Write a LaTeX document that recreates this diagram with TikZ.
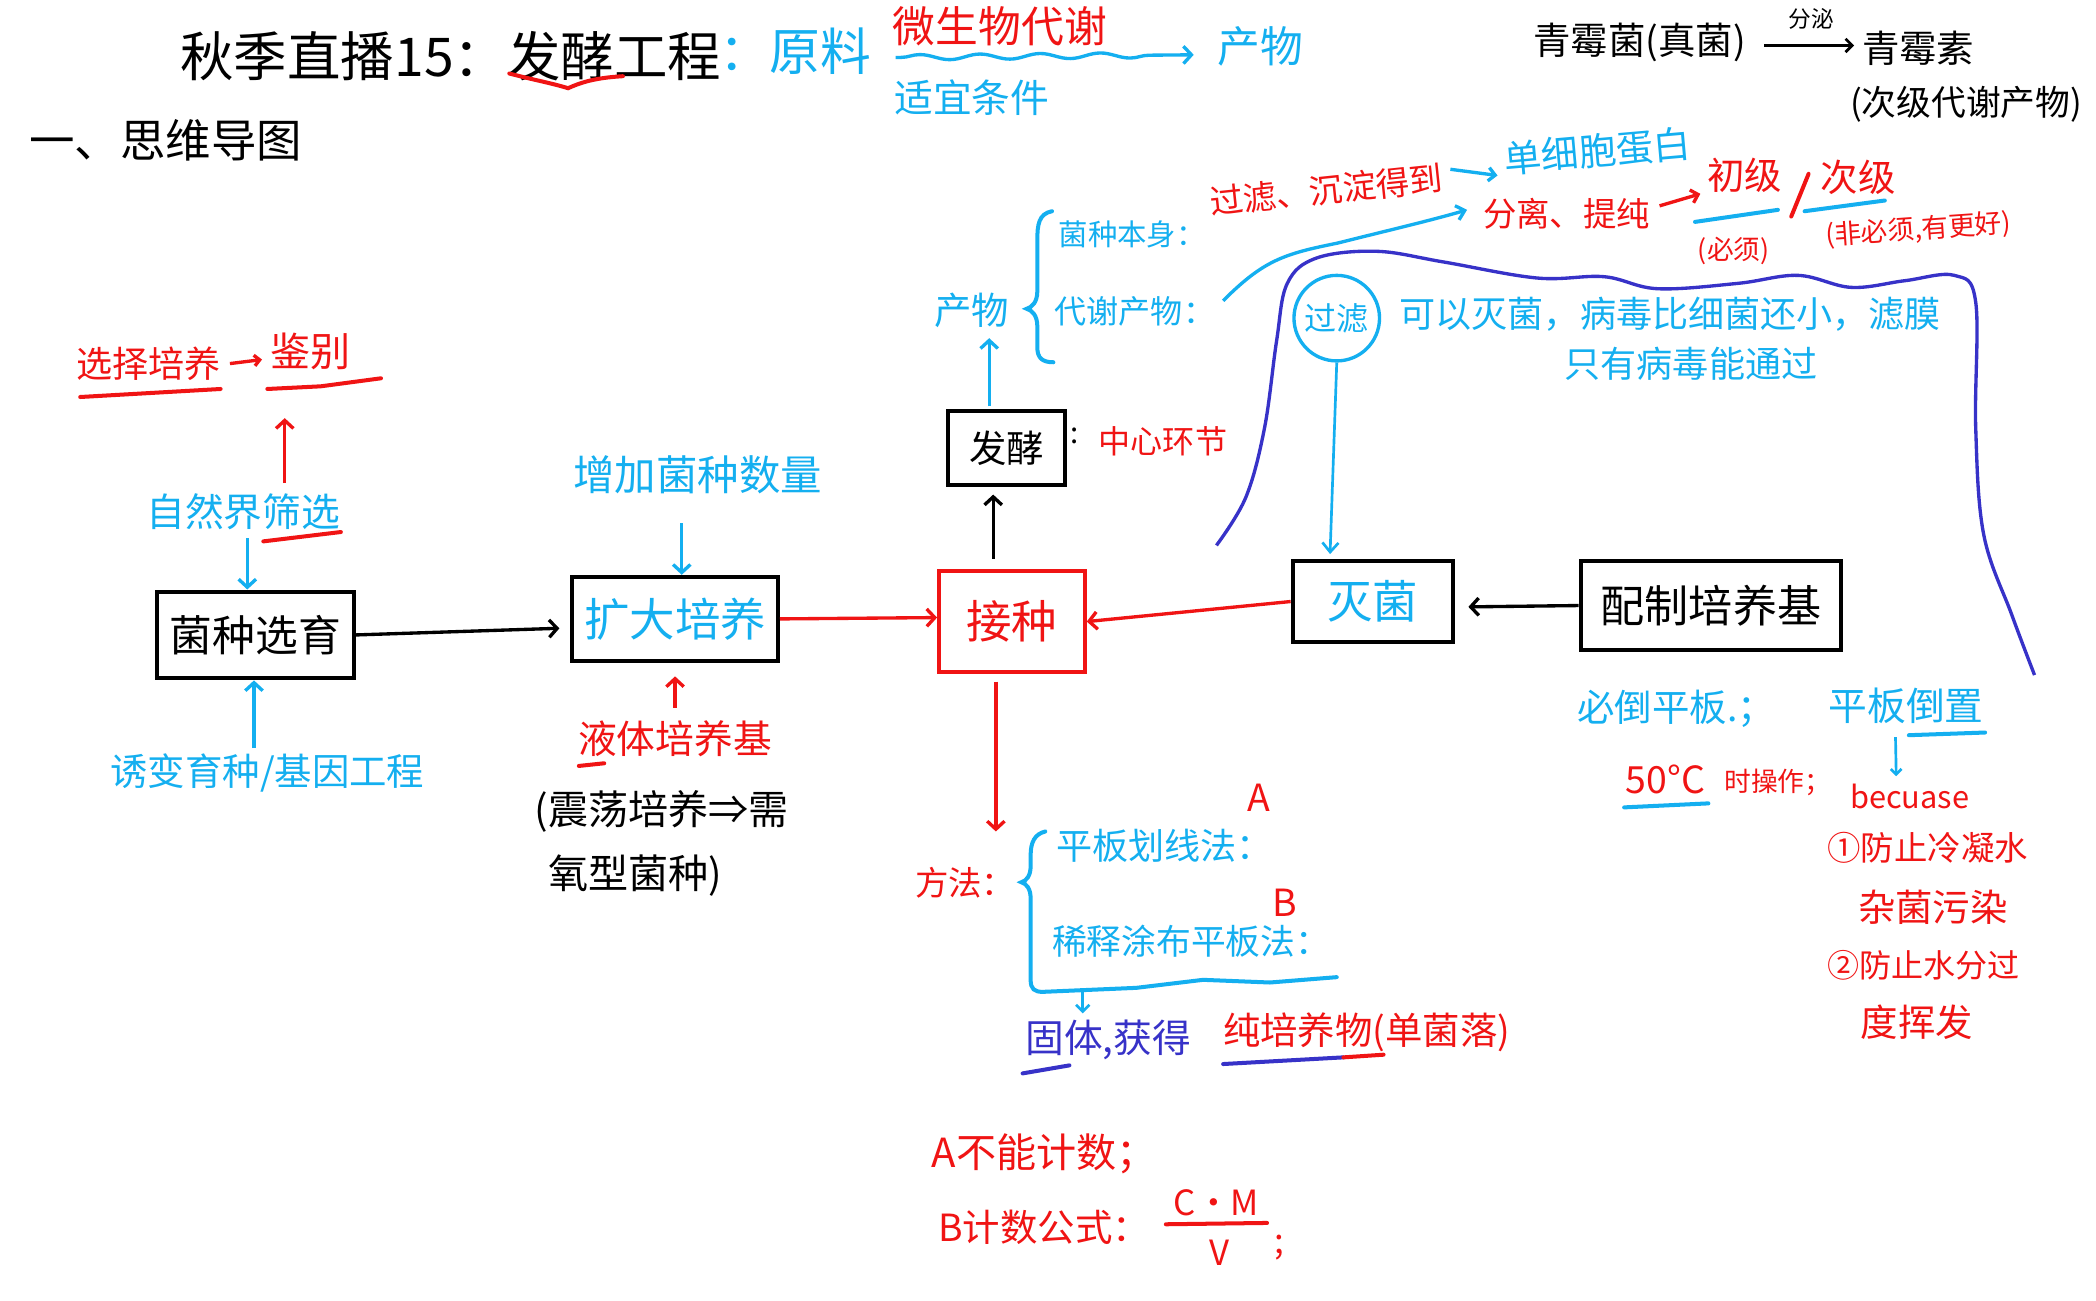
\documentclass[tikz,border=0pt]{standalone}
\usepackage{fontspec}
\setmainfont{Noto Sans CJK SC}
\usetikzlibrary{arrows.meta,calc,decorations.pathmorphing}
\definecolor{cb}{RGB}{20,175,240}
\definecolor{rd}{RGB}{240,20,20}
\definecolor{ib}{RGB}{55,50,200}
\newcommand{\fsz}[1]{\fontsize{#1pt}{#1pt}\selectfont}
\begin{document}
\begin{tikzpicture}[x=1pt,y=-1pt,
  txt/.style={inner sep=0pt, outer sep=2pt},
  boxk/.style={draw=black, line width=3pt, inner sep=0pt},
  arr/.style={-{Straight Barb[length=6pt,width=13pt]}, line width=2.5pt},
  ul/.style={line width=3pt, line cap=round},
]
\fill[white] (0,0) rectangle (1568,973);
\useasboundingbox (0,0) rectangle (1568,973);

% ---------- title line ----------
\node[txt,anchor=west,font=\fsz{40}] (title) at (133,42) {秋季直播15：发酵工程};
\node[txt,anchor=west,font=\fsz{38},text=cb] (yl) at (536,38) {：原料};
\node[txt,font=\fsz{32},text=rd] (wsw) at (748,20) {微生物代谢};
\node[txt,font=\fsz{32},text=cb] (cw1) at (943,35) {产物};
\node[txt,font=\fsz{29},text=cb] (sy) at (727,73) {适宜条件};
\draw[cb,arr,decorate,decoration={snake,amplitude=2pt,segment length=45pt,post length=14pt,pre length=4pt}]
  ($(yl.east)+(16,5)$) -- ($(cw1.west)+(-16,6)$);
\draw[rd,ul] (381,55) .. controls (400,60) and (412,62) .. (425,66) .. controls (438,60) and (450,58) .. (466,57);

% ---------- top right ----------
\node[txt,anchor=west,font=\fsz{28}] (qmj) at (1145,32) {青霉菌(真菌)};
\node[txt,anchor=west,font=\fsz{28}] (qms) at (1391,36) {青霉素};
\draw[-{Straight Barb[length=5pt,width=10pt]},line width=2pt] (qmj.east) ++(12,2) -- ($(qms.west)+(-4,-2)$);
\node[txt,font=\fsz{17}] (fm) at (1355,14) {分泌};
\node[txt,anchor=west,font=\fsz{26}] (cj) at (1382,78) {(次级代谢产物)};

\node[txt,anchor=west,font=\fsz{34}] (swdt) at (20,105) {一、思维导图};

% ---------- left part ----------
\node[txt,font=\fsz{27},text=rd] (xzpy) at (111,272) {选择培养};
\node[txt,font=\fsz{30},text=rd] (jb) at (232,263) {鉴别};
\draw[rd,-{Straight Barb[length=4pt,width=8pt]},line width=2.5pt] ($(xzpy.east)+(5,0)$) -- ($(jb.west)+(-4,6)$);
\draw[rd,ul] (60,297) -- (165,291);
\draw[rd,ul] (200,291) -- (240,289) -- (285,283);
\node[txt,font=\fsz{29},text=cb] (zr) at (182,383) {自然界筛选};
\draw[rd,ul] (197,405) -- (255,398);
\draw[rd,arr] ($(zr.north)+(31,-6)$) -- ($(jb.south)+(-19,34)$);

\node[boxk,minimum width=147pt,minimum height=65pt,font=\fsz{32}] (xy) at (191,475) {菌种选育};
\draw[cb,arr] ($(zr.south)+(3,4)$) -- ($(xy.north)+(-6,0)$);
\node[txt,font=\fsz{28},text=cb] (yb) at (200,578) {诱变育种/基因工程};
\draw[cb,arr] ($(yb.north)+(-10,-2)$) -- ($(xy.south)+(-1,0)$);

\node[boxk,minimum width=154pt,minimum height=63pt,font=\fsz{34},text=cb] (kd) at (505,463) {扩大培养};
\draw[arr] (xy.east) -- ($(kd.west)+(-8,7)$);
\node[txt,font=\fsz{31},text=cb] (zj) at (522,355) {增加菌种数量};
\draw[cb,arr] ($(zj.south)+(-12,20)$) -- ($(kd.north)+(5,0)$);
\node[txt,font=\fsz{29},text=rd] (yt) at (505,553) {液体培养基};
\draw[rd,ul] (433,573) -- (452,571);
\draw[rd,arr] ($(yt.north)+(0,-8)$) -- ($(kd.south)+(0,10)$);
\node[txt,anchor=west,font=\fsz{30}] (zd1) at (398,607) {(震荡培养⇒需};
\node[txt,anchor=west,font=\fsz{30}] (zd2) at (408,655) {氧型菌种)};

% ---------- centre ----------
\node[draw=rd,line width=3pt,inner sep=0pt,minimum width=109pt,minimum height=75pt,font=\fsz{34},text=rd] (jz) at (757,465) {接种};
\draw[rd,arr] (kd.east) -- ($(jz.west)+(0,-3)$);
\node[boxk,minimum width=87pt,minimum height=55pt,font=\fsz{28}] (fj) at (753,335) {发酵};
\draw[arr] ($(jz.north)+(-14,-8)$) -- ($(fj.south)+(-10,6)$);
\node[txt,anchor=west,font=\fsz{22}] (colon1) at (799,326) {:};
\node[txt,anchor=west,font=\fsz{24},text=rd] (zx) at (820,330) {中心环节};
\node[txt,font=\fsz{28},text=cb] (cw2) at (727,232) {产物};
\draw[cb,arr] ($(fj.north)+(-13,-2)$) -- ($(cw2.south)+(13,6)$);
\draw[cb,ul] (787,158) .. controls (777,160) and (776,168) .. (776,180) -- (776,218)
  .. controls (776,226) and (772,230) .. (768,231) .. controls (772,232) and (776,236) .. (776,244)
  -- (776,260) .. controls (776,268) and (780,271) .. (788,271);
\node[txt,anchor=west,font=\fsz{22},text=cb] (jzbs) at (790,175) {菌种本身：};
\node[txt,font=\fsz{25},text=rd,rotate=6] (gl) at (992,142) {过滤、沉淀得到};
\node[txt,font=\fsz{28},text=cb,rotate=5] (dxb) at (1195,113) {单细胞蛋白};
\draw[cb,-{Straight Barb[length=5pt,width=10pt]},line width=2.5pt] ($(gl.east)+(4,-6)$) -- ($(dxb.west)+(-3,12)$);
\node[txt,anchor=west,font=\fsz{24},text=cb] (dx) at (787,233) {代谢产物：};
\node[txt,font=\fsz{25},text=rd] (fl) at (1172,160) {分离、提纯};
\draw[cb,-{Straight Barb[length=6pt,width=11pt]},line width=2.5pt] ($(dx.east)+(4,-8)$)
  .. controls (945,195) and (960,190) .. (1000,182) .. controls (1040,172) and (1070,165) .. ($(fl.west)+(-10,-3)$);
\node[txt,font=\fsz{28},text=rd] (cjj) at (1305,131) {初级};
\node[txt,font=\fsz{28},text=rd] (cij) at (1390,133) {次级};
\draw[rd,-{Straight Barb[length=5pt,width=10pt]},line width=2.5pt] ($(fl.east)+(5,-6)$) -- ($(cjj.west)+(-3,14)$);
\draw[rd,ul] (1340,162) -- (1353,130);
\draw[cb,ul] (1268,166) -- (1330,157);
\draw[cb,ul] (1350,158) -- (1410,150);
\node[txt,font=\fsz{20},text=rd] (bx) at (1297,188) {(必须)};
\node[txt,font=\fsz{20},text=rd,rotate=4] (fbx) at (1435,172) {(非必须,有更好)};

% ---------- filter area ----------
\draw[ib,line width=2.5pt] plot[smooth,tension=0.6] coordinates {(910,408) (932,372) (946,320) (955,255) (963,212) (985,193) (1030,188) (1080,196) (1150,208) (1200,207) (1240,216) (1300,212) (1345,206) (1385,215) (1425,210) (1462,206) (1478,226) (1478,320) (1484,400) (1505,460) (1522,505)};
\node[draw=cb,circle,line width=2.5pt,inner sep=0pt,minimum size=64pt,font=\fsz{24},text=cb] (glc) at (1000,238) {过滤};
\node[txt,anchor=west,font=\fsz{27},text=cb] (kymj) at (1045,235) {可以灭菌，病毒比细菌还小，滤膜};
\node[txt,font=\fsz{27},text=cb] (zyb) at (1265,272) {只有病毒能通过};

\node[boxk,minimum width=120pt,minimum height=60pt,font=\fsz{34},text=cb] (mj) at (1027,450) {灭菌};
\draw[cb,-{Straight Barb[length=7pt,width=12pt]},line width=2pt] (glc.south) -- ($(mj.north)+(-32,-4)$);
\draw[rd,arr] (mj.west) -- (jz.east);
\node[boxk,minimum width=195pt,minimum height=67pt,font=\fsz{33}] (pz) at (1280,453) {配制培养基};
\draw[arr] (pz.west) -- ($(mj.east)+(10,4)$);

\node[txt,anchor=west,font=\fsz{28},text=cb] (ddpb) at (1178,530) {必倒平板.；};
\node[txt,font=\fsz{29},text=cb] (pbdz) at (1426,528) {平板倒置};
\draw[cb,ul] (1428,550) -- (1485,548);
\node[txt,font=\fsz{28},text=rd] (wd) at (1246,583) {50°C};
\draw[cb,ul] (1215,604) -- (1278,601);
\node[txt,anchor=west,font=\fsz{20},text=rd] (sczz) at (1288,585) {时操作；};
\node[txt,anchor=west,font=\fsz{23},text=rd] (bc) at (1382,596) {becuase};
\draw[cb,-{Straight Barb[length=4pt,width=8pt]},line width=2pt] ($(pbdz.south)+(-8,8)$) -- ($(bc.north)+(-10,-4)$);
\node[txt,anchor=west,font=\fsz{25},text=rd] (r1) at (1365,634) {①防止冷凝水};
\node[txt,anchor=west,font=\fsz{28},text=rd] (r2) at (1388,679) {杂菌污染};
\node[txt,anchor=west,font=\fsz{24},text=rd] (r3) at (1365,722) {②防止水分过};
\node[txt,anchor=west,font=\fsz{28},text=rd] (r4) at (1390,765) {度挥发};

% ---------- methods ----------
\node[txt,font=\fsz{25},text=rd] (ff) at (722,660) {方法：};
\coordinate (ffin) at (745,622);
\draw[rd,arr] ($(jz.south)+(-12,6)$) -- (ffin);
\draw[cb,ul] (782,622) .. controls (774,624) and (771,630) .. (771,640) -- (771,648)
  .. controls (771,655) and (768,659) .. (764,660) .. controls (768,661) and (771,665) .. (771,672)
  -- (771,733) .. controls (771,740) and (774,742) .. (780,742)
  -- (850,739) -- (900,733) -- (950,735) -- (1000,731);
\node[txt,anchor=west,font=\fsz{27},text=cb] (pbhx) at (788,633) {平板划线法：};
\node[txt,font=\fsz{28},text=rd] (la) at (942,597) {A};
\node[txt,anchor=west,font=\fsz{26},text=cb] (xstb) at (785,704) {稀释涂布平板法：};
\node[txt,font=\fsz{28},text=rd] (lb) at (961,675) {B};
\node[txt,anchor=west,font=\fsz{29},text=ib] (gt) at (765,778) {固体,获得};
\node[txt,anchor=west,font=\fsz{28},text=rd] (cpy) at (913,772) {纯培养物(单菌落)};
\draw[cb,-{Straight Barb[length=5pt,width=10pt]},line width=2pt] ($(xstb.south west)+(25,24)$) -- ($(gt.north west)+(45,-3)$);
\draw[ib,ul] (765,803) -- (800,797);
\draw[ib,ul] (915,796) -- (1005,791);
\draw[rd,ul] (1005,791) -- (1035,789);

\node[txt,anchor=west,font=\fsz{30},text=rd] (abn) at (695,863) {A不能计数；};
\node[txt,anchor=west,font=\fsz{28},text=rd] (bjs) at (700,918) {B计数公式：};
\node[txt,font=\fsz{26},text=rd] (num) at (910,900) {C·M};
\node[txt,font=\fsz{26},text=rd] (den) at (912,937) {V};
\draw[rd,ul] ($(num.south west)+(-4,4)$) -- ($(num.south east)+(4,3)$);
\node[txt,font=\fsz{26},text=rd] (semi) at (957,933) {;};
\end{tikzpicture}
\end{document}
